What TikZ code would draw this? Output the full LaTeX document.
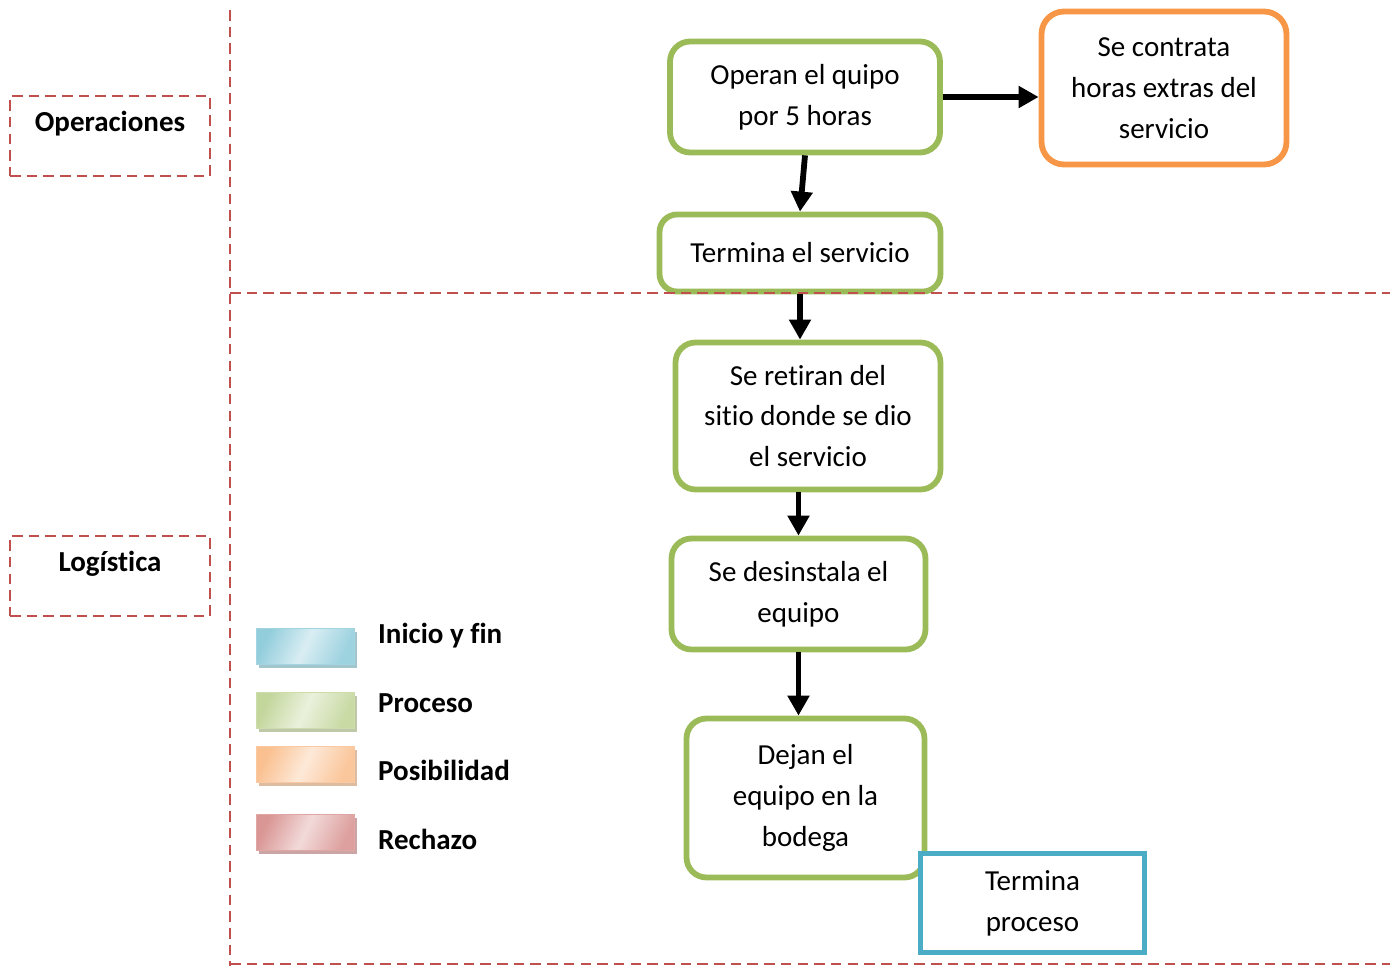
\documentclass[tikz,border=0pt]{standalone}
\usepackage{fontspec}
\setmainfont{Carlito}[Ligatures=NoCommon]
\usetikzlibrary{positioning, arrows.meta, shadows}

\definecolor{linea}{HTML}{C0504D}
\definecolor{verde}{HTML}{9BBB59}
\definecolor{naranja}{HTML}{F79646}
\definecolor{azul}{HTML}{4BACC6}
\definecolor{legazul}{HTML}{92CDDC}
\definecolor{legverde}{HTML}{C3D69B}
\definecolor{legnaranja}{HTML}{FAC090}
\definecolor{legrojo}{HTML}{D99694}

\begin{document}
\begin{tikzpicture}[x=0.02cm, y=-0.02cm,
    every node/.style={font=\fontsize{16.5}{23.3}\selectfont, align=center},
    proc/.style={draw=verde, line width=3.3pt, rounded corners=0.4cm, fill=white},
    posib/.style={draw=naranja, line width=3.3pt, rounded corners=0.45cm, fill=white},
    fin/.style={draw=azul, line width=3.3pt, fill=white},
    area/.style={draw=linea, line width=1.4pt, dash pattern=on 6pt off 3.5pt,
        minimum width=4cm, minimum height=1.6cm, text depth=0.6cm,
        font=\fontsize{16.5}{20}\selectfont\bfseries},
    carril/.style={draw=linea, line width=1.3pt, dash pattern=on 6pt off 3.5pt},
    leyenda/.style={minimum width=1.96cm, minimum height=0.72cm, draw=#1!85,
        left color=#1, right color=#1!90, middle color=#1!35, shading angle=65,
        drop shadow={shadow xshift=0.06cm, shadow yshift=-0.08cm, fill=#1!70!gray, opacity=0.8}},
    etiq/.style={anchor=west, font=\fontsize{16.5}{20}\selectfont\bfseries},
    flecha/.style={-{Triangle[length=0.4cm,width=0.42cm]}, line width=3.3pt}]

\useasboundingbox (0,0) rectangle (1390,966);

% areas
\node[area] (oper) at (110,136) {Operaciones};
\node[area] (logi) at (110,576) {Logística};

% leyenda
\node[leyenda=legazul] (lazul) at (305,646) {};
\node[leyenda=legverde] (lverde) at (305,710) {};
\node[leyenda=legnaranja] (lnaranja) at (305,764) {};
\node[leyenda=legrojo] (lrojo) at (305,832) {};
\node[etiq] at (372,636) {Inicio y fin};
\node[etiq] at (372,703) {Proceso};
\node[etiq] at (372,770) {Posibilidad};
\node[etiq] at (372,839) {Rechazo};

% flujo
\node[proc, minimum width=5.4cm, minimum height=2.22cm] (opera) at (805,97) {Operan el quipo\\por 5 horas};
\node[posib, minimum width=4.9cm, minimum height=3.06cm] (extra) at (1164,88) {Se contrata\\horas extras del\\servicio};
\node[proc, minimum width=5.62cm, minimum height=1.54cm, rounded corners=0.35cm] (termina) at (800,253) {Termina el servicio};
\node[proc, minimum width=5.3cm, minimum height=2.94cm] (retiro) at (808,416) {Se retiran del\\sitio donde se dio\\el servicio};
\node[proc, minimum width=5.08cm, minimum height=2.22cm] (desins) at (798.5,594) {Se desinstala el\\equipo};
\node[proc, minimum width=4.76cm, minimum height=3.18cm] (bodega) at (805.5,798) {Dejan el\\equipo en la\\bodega};
\node[fin, minimum width=4.48cm, minimum height=1.98cm] (final) at (1032.5,903) {Termina\\proceso};

\path[flecha]
    (opera.east) edge (opera.east -| extra.west)
    (opera.south) edge (termina.north)
    (termina.south) edge (termina.south |- retiro.north)
    (desins.north |- retiro.south) edge (desins.north)
    (desins.south) edge (desins.south |- bodega.north);

% carriles
\draw[carril] (230,10) -- (230,966);
\draw[carril] (230,293) -- (1390,293);
\draw[carril] (230,964) -- (1390,964);
\end{tikzpicture}
\end{document}
